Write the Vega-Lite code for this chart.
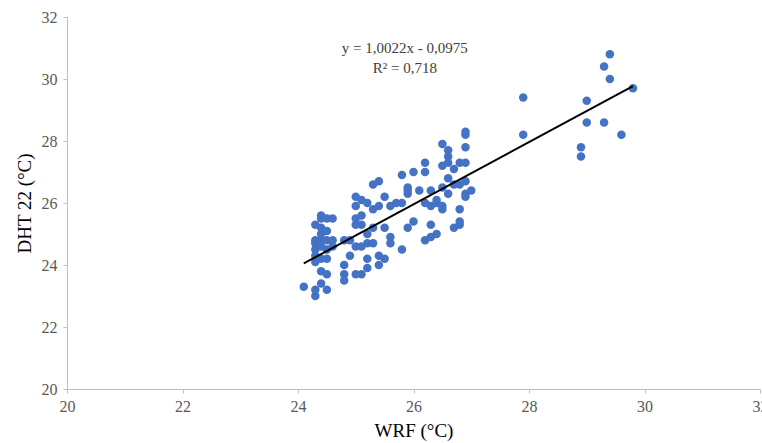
{
  "$schema": "https://vega.github.io/schema/vega-lite/v6.json",
  "width": 693,
  "height": 372,
  "autosize": {"type": "none"},
  "padding": {"left": 67, "top": 17, "right": 2, "bottom": 54},
  "background": "white",
  "config": {
    "view": {"stroke": null},
    "font": "Liberation Serif"
  },
  "datasets": {
    "pts": [
      {"wrf": 24.1, "dht": 23.3}, {"wrf": 24.3, "dht": 23.0}, {"wrf": 24.3, "dht": 23.2}, {"wrf": 24.4, "dht": 23.4}, {"wrf": 24.5, "dht": 23.2}, {"wrf": 24.4, "dht": 23.8}, {"wrf": 24.5, "dht": 23.7},
      {"wrf": 24.3, "dht": 24.1}, {"wrf": 24.3, "dht": 24.3}, {"wrf": 24.3, "dht": 24.5}, {"wrf": 24.3, "dht": 24.7}, {"wrf": 24.3, "dht": 24.8}, {"wrf": 24.4, "dht": 24.6}, {"wrf": 24.4, "dht": 24.8}, {"wrf": 24.4, "dht": 25.0}, {"wrf": 24.4, "dht": 25.2}, {"wrf": 24.3, "dht": 25.3}, {"wrf": 24.4, "dht": 25.5}, {"wrf": 24.4, "dht": 25.6}, {"wrf": 24.5, "dht": 25.5}, {"wrf": 24.6, "dht": 25.5}, {"wrf": 24.5, "dht": 25.1}, {"wrf": 24.5, "dht": 24.8}, {"wrf": 24.6, "dht": 24.8}, {"wrf": 24.5, "dht": 24.5}, {"wrf": 24.5, "dht": 24.2}, {"wrf": 24.6, "dht": 24.6}, {"wrf": 24.4, "dht": 24.2},
      {"wrf": 24.8, "dht": 24.8}, {"wrf": 24.8, "dht": 24.0}, {"wrf": 24.8, "dht": 23.5}, {"wrf": 24.8, "dht": 23.7}, {"wrf": 24.9, "dht": 24.3}, {"wrf": 24.9, "dht": 24.8}, {"wrf": 25.0, "dht": 24.6}, {"wrf": 25.0, "dht": 25.3}, {"wrf": 25.0, "dht": 25.5}, {"wrf": 25.0, "dht": 26.2}, {"wrf": 25.0, "dht": 25.9}, {"wrf": 25.0, "dht": 23.7}, {"wrf": 25.1, "dht": 23.7}, {"wrf": 25.1, "dht": 24.6},
      {"wrf": 25.1, "dht": 26.1}, {"wrf": 25.1, "dht": 25.6}, {"wrf": 25.1, "dht": 25.3}, {"wrf": 25.2, "dht": 25.0}, {"wrf": 25.2, "dht": 24.7}, {"wrf": 25.2, "dht": 24.2}, {"wrf": 25.2, "dht": 23.9}, {"wrf": 25.2, "dht": 26.0}, {"wrf": 25.3, "dht": 26.6}, {"wrf": 25.3, "dht": 25.8}, {"wrf": 25.3, "dht": 25.2}, {"wrf": 25.3, "dht": 24.7}, {"wrf": 25.4, "dht": 25.9}, {"wrf": 25.4, "dht": 26.7}, {"wrf": 25.4, "dht": 24.0}, {"wrf": 25.4, "dht": 24.3}, {"wrf": 25.5, "dht": 26.2}, {"wrf": 25.5, "dht": 25.2}, {"wrf": 25.5, "dht": 24.2}, {"wrf": 25.6, "dht": 25.9}, {"wrf": 25.6, "dht": 24.9}, {"wrf": 25.6, "dht": 24.7}, {"wrf": 25.7, "dht": 26.0}, {"wrf": 25.8, "dht": 26.0}, {"wrf": 25.8, "dht": 26.9}, {"wrf": 25.8, "dht": 24.5},
      {"wrf": 25.9, "dht": 26.4}, {"wrf": 25.9, "dht": 26.3}, {"wrf": 25.9, "dht": 26.5}, {"wrf": 25.9, "dht": 25.2}, {"wrf": 26.0, "dht": 27.0}, {"wrf": 26.0, "dht": 25.4}, {"wrf": 26.1, "dht": 26.4}, {"wrf": 26.2, "dht": 27.3}, {"wrf": 26.2, "dht": 27.0}, {"wrf": 26.2, "dht": 26.0}, {"wrf": 26.2, "dht": 24.8}, {"wrf": 26.3, "dht": 26.4}, {"wrf": 26.3, "dht": 25.9}, {"wrf": 26.3, "dht": 25.3}, {"wrf": 26.3, "dht": 24.9}, {"wrf": 26.4, "dht": 26.0}, {"wrf": 26.4, "dht": 26.1}, {"wrf": 26.4, "dht": 25.0}, {"wrf": 26.5, "dht": 27.9}, {"wrf": 26.5, "dht": 27.2}, {"wrf": 26.5, "dht": 26.5}, {"wrf": 26.5, "dht": 25.9}, {"wrf": 26.5, "dht": 25.8},
      {"wrf": 26.6, "dht": 27.7}, {"wrf": 26.6, "dht": 27.5}, {"wrf": 26.6, "dht": 27.3}, {"wrf": 26.6, "dht": 26.8}, {"wrf": 26.6, "dht": 26.3}, {"wrf": 26.7, "dht": 27.1}, {"wrf": 26.7, "dht": 26.6}, {"wrf": 26.7, "dht": 25.2}, {"wrf": 26.8, "dht": 27.3}, {"wrf": 26.8, "dht": 26.6}, {"wrf": 26.8, "dht": 25.8}, {"wrf": 26.8, "dht": 25.4}, {"wrf": 26.8, "dht": 25.3}, {"wrf": 26.9, "dht": 28.3}, {"wrf": 26.9, "dht": 28.2}, {"wrf": 26.9, "dht": 27.8}, {"wrf": 26.9, "dht": 27.3}, {"wrf": 26.9, "dht": 26.7}, {"wrf": 26.9, "dht": 26.3}, {"wrf": 26.9, "dht": 26.2}, {"wrf": 27.0, "dht": 26.4},
      {"wrf": 27.9, "dht": 29.4}, {"wrf": 27.9, "dht": 28.2}, {"wrf": 28.9, "dht": 27.8}, {"wrf": 28.9, "dht": 27.5}, {"wrf": 29.0, "dht": 29.3}, {"wrf": 29.0, "dht": 28.6}, {"wrf": 29.3, "dht": 30.4}, {"wrf": 29.3, "dht": 28.6}, {"wrf": 29.4, "dht": 30.8}, {"wrf": 29.4, "dht": 30.0}, {"wrf": 29.6, "dht": 28.2}, {"wrf": 29.8, "dht": 29.7}
    ],
    "trend": [
      {"wrf": 24.1, "dht": 24.05},
      {"wrf": 29.8, "dht": 29.77}
    ],
    "note": [
      {"wrf": 25.85, "dht": 31.0, "label": "y = 1,0022x - 0,0975"},
      {"wrf": 25.85, "dht": 30.35, "label": "R² = 0,718"}
    ]
  },
  "encoding": {
    "x": {
      "field": "wrf", "type": "quantitative",
      "scale": {"domain": [20, 32], "nice": false, "zero": false},
      "axis": {
        "title": "WRF (°C)", "values": [20, 22, 24, 26, 28, 30, 32],
        "grid": false, "domainColor": "#bfbfbf", "tickColor": "#bfbfbf", "tickSize": 4,
        "labelColor": "#595959", "labelFont": "Liberation Serif", "labelFontSize": 16, "labelPadding": 5,
        "labelFlush": false, "labelOverlap": false,
        "titleColor": "#000000", "titleFont": "Liberation Serif", "titleFontSize": 19, "titleFontWeight": "normal", "titlePadding": 7
      }
    },
    "y": {
      "field": "dht", "type": "quantitative",
      "scale": {"domain": [20, 32], "nice": false, "zero": false},
      "axis": {
        "title": "DHT 22 (°C)", "values": [20, 22, 24, 26, 28, 30, 32],
        "grid": false, "domainColor": "#bfbfbf", "tickColor": "#bfbfbf", "tickSize": 4,
        "labelColor": "#595959", "labelFont": "Liberation Serif", "labelFontSize": 16, "labelPadding": 6,
        "labelFlush": false, "labelOverlap": false,
        "titleColor": "#000000", "titleFont": "Liberation Serif", "titleFontSize": 19, "titleFontWeight": "normal", "titlePadding": 7
      }
    }
  },
  "layer": [
    {
      "data": {"name": "pts"},
      "mark": {"type": "circle", "size": 72, "color": "#4472C4", "opacity": 1}
    },
    {
      "data": {"name": "trend"},
      "mark": {"type": "line", "color": "#000000", "strokeWidth": 2}
    },
    {
      "data": {"name": "note"},
      "mark": {"type": "text", "font": "Liberation Serif", "fontSize": 15, "color": "#404040", "align": "center", "baseline": "middle"},
      "encoding": {"text": {"field": "label"}}
    }
  ]
}
